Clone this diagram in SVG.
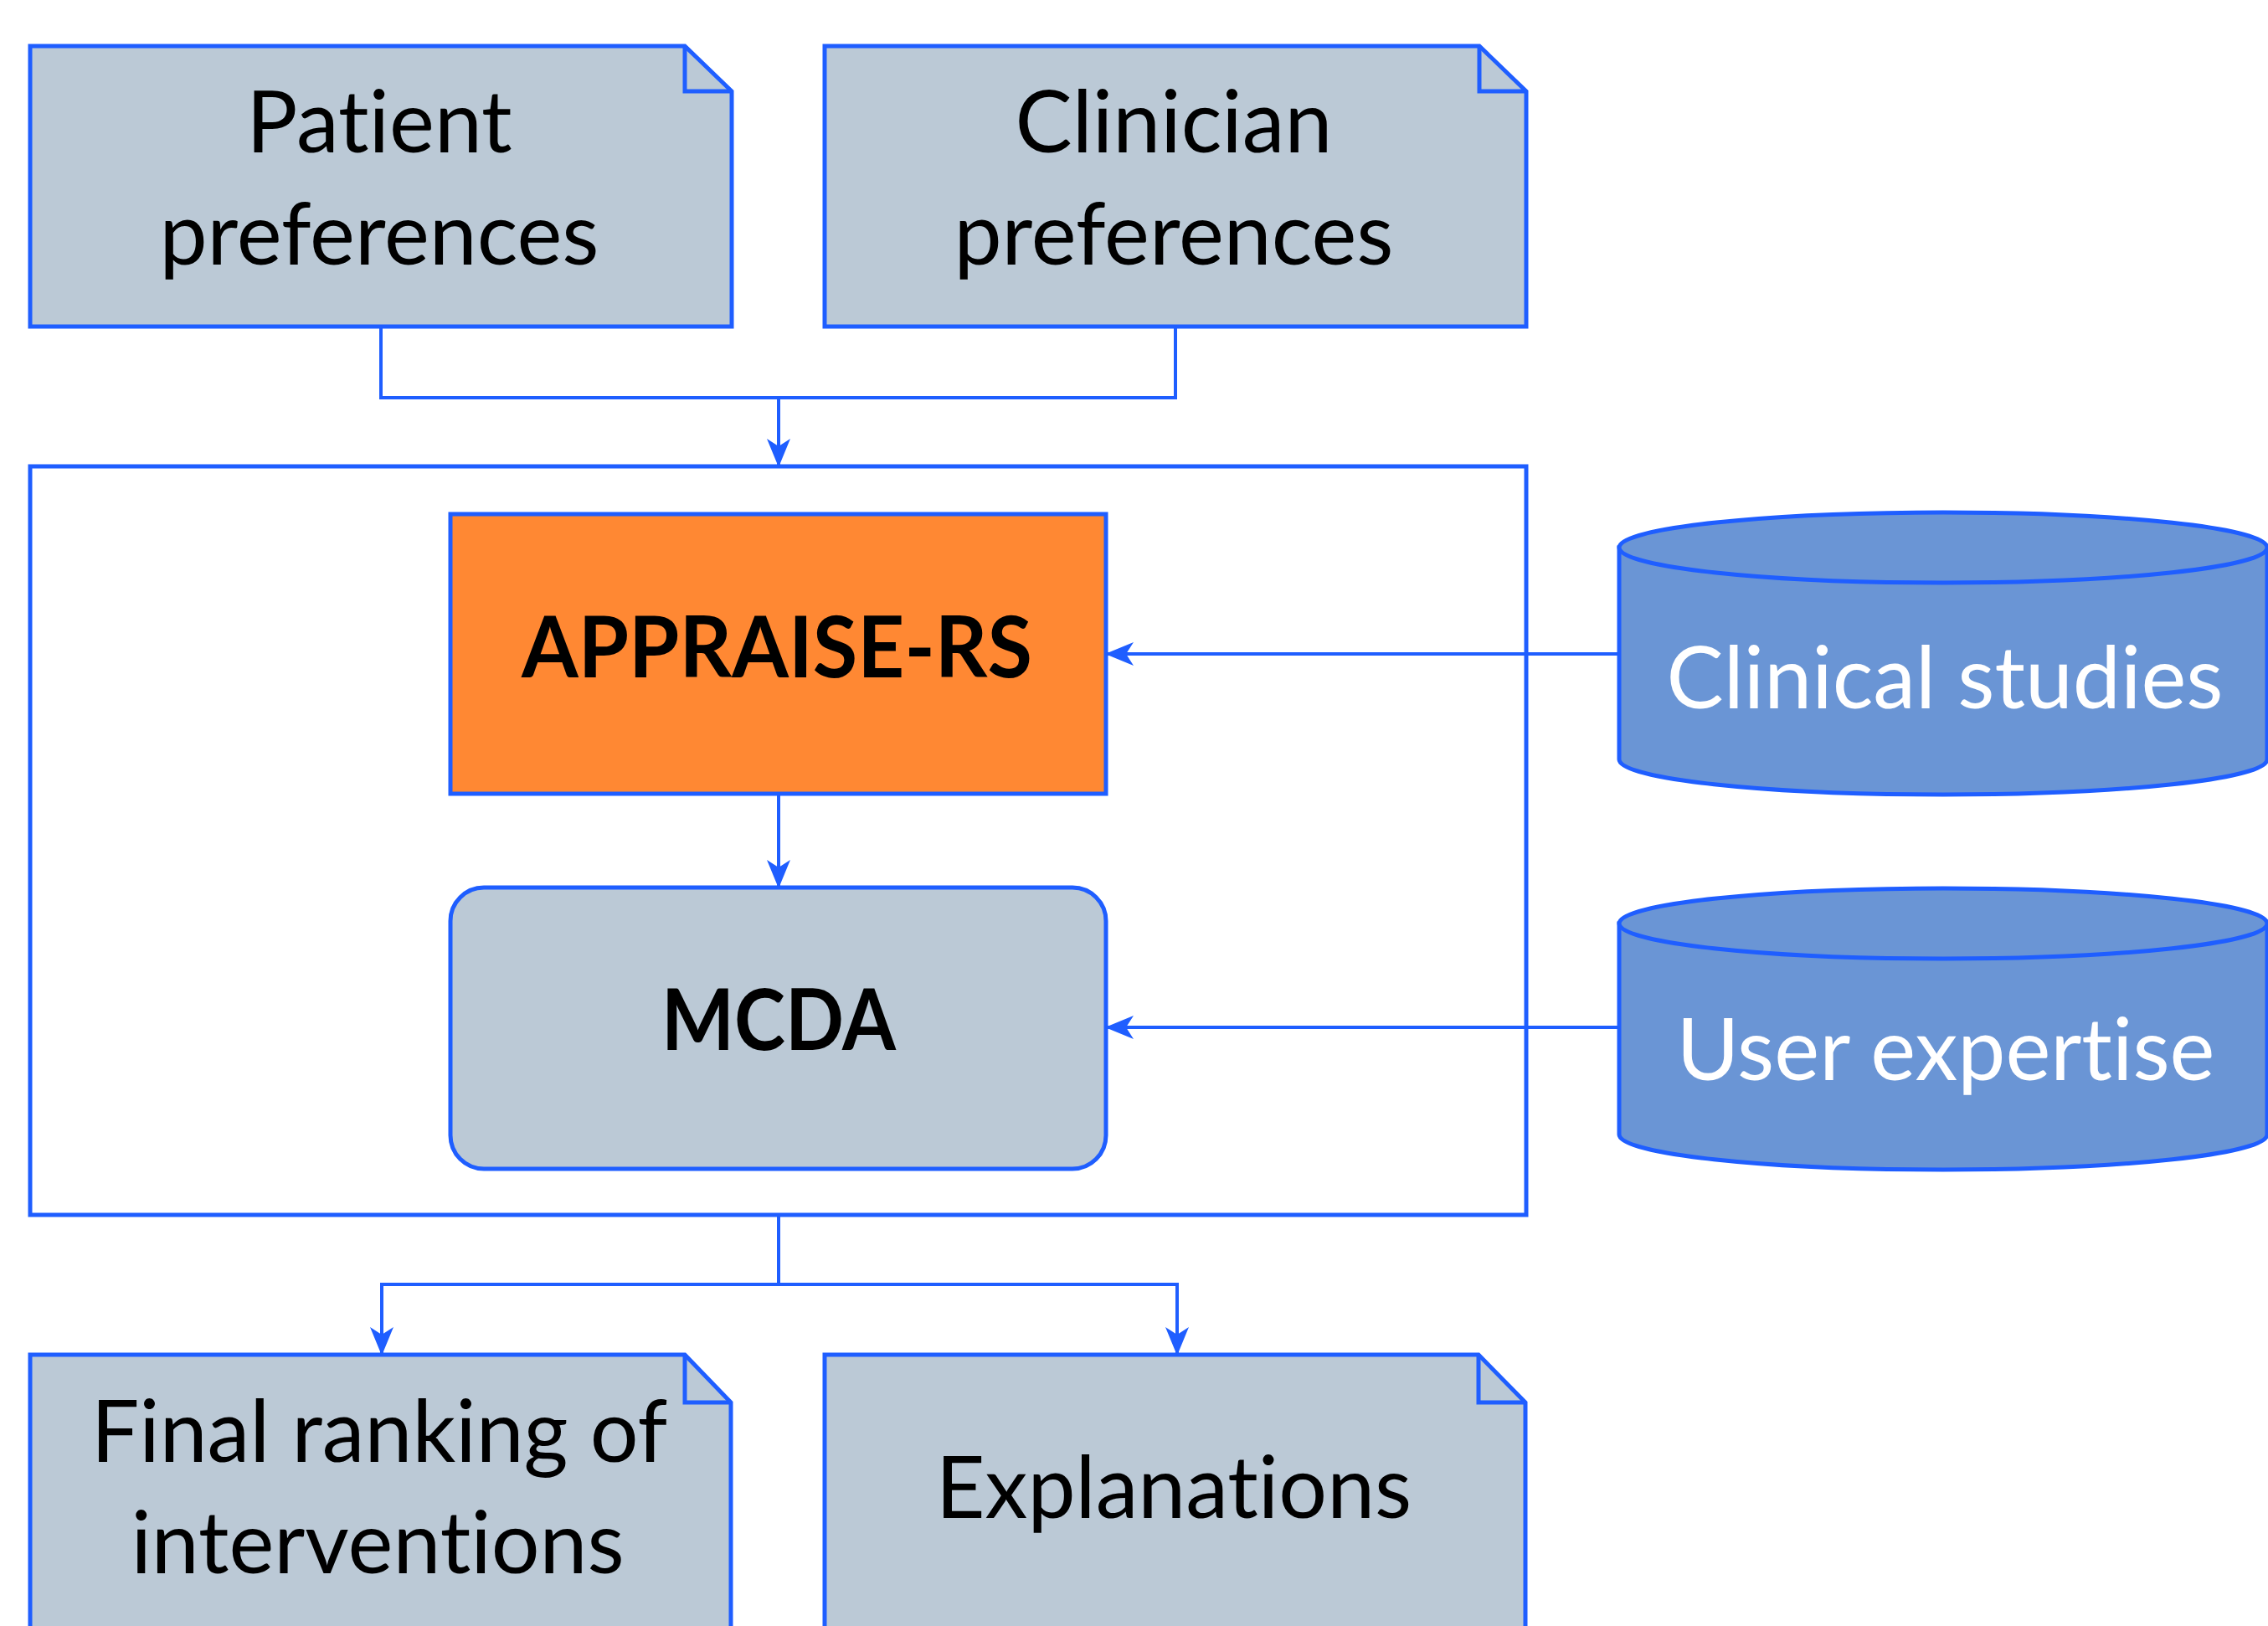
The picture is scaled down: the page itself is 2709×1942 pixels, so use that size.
<svg xmlns="http://www.w3.org/2000/svg" width="2709" height="1942" viewBox="0 0 2709 1942">
<style>
.note{fill:#BBC9D6;stroke:#1F5EFF;stroke-width:5;stroke-linejoin:miter}
.fold{fill:none;stroke:#1F5EFF;stroke-width:5}
.proc{fill:#FF8833;stroke:#1F5EFF;stroke-width:5}
.mcda{fill:#BBC9D6;stroke:#1F5EFF;stroke-width:5}
.outer{fill:#FFFFFF;stroke:#1F5EFF;stroke-width:5}
.cyl{fill:#6A95D5;stroke:#1F5EFF;stroke-width:5}
.con{fill:none;stroke:#1F5EFF;stroke-width:4}
.t{font-family:Lato,"Liberation Sans",sans-serif;font-size:102px;fill:#000;text-anchor:middle;font-variant-ligatures:none;font-feature-settings:"liga" 0}
.b{font-weight:bold}
.w{fill:#FFFFFF}
</style>
<defs>
<marker id="arr" markerUnits="userSpaceOnUse" viewBox="0 0 34 30" refX="33" refY="15" markerWidth="34" markerHeight="30" orient="auto">
<path d="M0,1 L34,15 L0,29 L9,15 Z" fill="#1F5EFF"/>
</marker>
</defs>
<rect width="2709" height="1942" fill="#FFFFFF"/>
<g id="outer-box">
<rect class="outer" x="36" y="557" width="1787" height="894"/>
</g>
<g id="patient-preferences">
<path class="note" d="M36,55 H818 L874,109 V390 H36 Z"/>
<path class="fold" d="M818,55 V109 H874"/>
<text class="t" x="453" y="182">Patient</text>
<text class="t" x="453" y="316">preferences</text>
</g>
<g id="clinician-preferences">
<path class="note" d="M985,55 H1767 L1823,109 V390 H985 Z"/>
<path class="fold" d="M1767,55 V109 H1823"/>
<text class="t" x="1402" y="182">Clinician</text>
<text class="t" x="1402" y="316">preferences</text>
</g>
<g id="appraise-rs">
<rect class="proc" x="538" y="614" width="783" height="334"/>
<text class="t b" x="928" y="809" textLength="610" lengthAdjust="spacingAndGlyphs">APPRAISE-RS</text>
</g>
<g id="mcda">
<rect class="mcda" x="538" y="1060" width="783" height="336" rx="40" ry="40"/>
<text class="t b" x="930" y="1254" textLength="280" lengthAdjust="spacingAndGlyphs">MCDA</text>
</g>
<g id="clinical-studies">
<path class="cyl" d="M1934,654 V907 A387,42 0 0 0 2708,907 V654 Z"/>
<ellipse class="cyl" cx="2321" cy="654" rx="387" ry="42"/>
<text class="t w" x="2323" y="846">Clinical studies</text>
</g>
<g id="user-expertise">
<path class="cyl" d="M1934,1103 V1355 A387,42 0 0 0 2708,1355 V1103 Z"/>
<ellipse class="cyl" cx="2321" cy="1103" rx="387" ry="42"/>
<text class="t w" x="2324" y="1290">User expertise</text>
</g>
<g id="final-ranking">
<path class="note" d="M36,1618 H818 L873,1675 V1980 H36 Z"/>
<path class="fold" d="M818,1618 V1675 H873"/>
<text class="t" x="453" y="1746">Final ranking of</text>
<text class="t" x="451" y="1879">interventions</text>
</g>
<g id="explanations">
<path class="note" d="M985,1618 H1766 L1822,1675 V1980 H985 Z"/>
<path class="fold" d="M1766,1618 V1675 H1822"/>
<text class="t" x="1402" y="1813">Explanations</text>
</g>
<g id="connectors">
<path class="con" d="M455,390 V475 H930 V557" marker-end="url(#arr)"/>
<path class="con" d="M1404,390 V475 H930"/>
<path class="con" d="M930,948 V1060" marker-end="url(#arr)"/>
<path class="con" d="M1934,781 H1321" marker-end="url(#arr)"/>
<path class="con" d="M1934,1227 H1321" marker-end="url(#arr)"/>
<path class="con" d="M930,1451 V1534 H456 V1618" marker-end="url(#arr)"/>
<path class="con" d="M930,1534 H1406 V1618" marker-end="url(#arr)"/>
</g>
</svg>
